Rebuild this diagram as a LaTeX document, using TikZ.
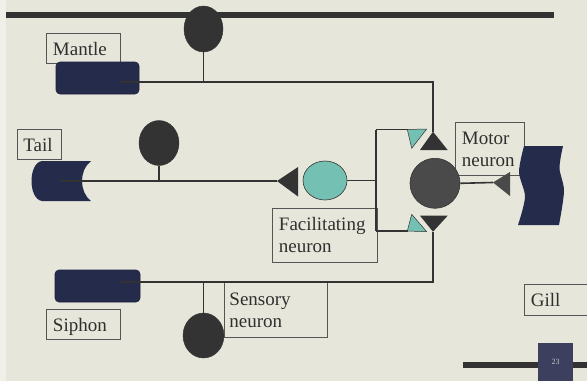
\documentclass[tikz,border=0pt]{standalone}
\usepackage{fontspec}
\setmainfont{Liberation Serif}
\usetikzlibrary{shapes.geometric}
\definecolor{bg}{HTML}{E7E6DA}
\definecolor{strip}{HTML}{F0F0E8}
\definecolor{navy}{HTML}{252B4B}
\definecolor{dark}{HTML}{333333}
\definecolor{motorc}{HTML}{4A4A4A}
\definecolor{tealc}{HTML}{74C0B2}
\definecolor{boxc}{HTML}{555555}
\definecolor{txt}{HTML}{2F2F2F}
\definecolor{pagec}{HTML}{3C3F5E}
\definecolor{pagetxt}{HTML}{C8C8C8}
\begin{document}
\begin{tikzpicture}[x=1pt,y=-1pt,
  lbl/.style={draw=boxc,line width=0.9pt,rectangle,inner xsep=6.5pt,inner ysep=0pt,
    align=left,font=\fontsize{19}{22}\selectfont,text=txt,anchor=north west},
  one/.style={text depth=0pt},
  wire/.style={draw=dark,line width=1.6pt},
  soma/.style={ellipse,fill=dark,draw=dark,inner sep=0pt},
  navybox/.style={rectangle,rounded corners=4pt,fill=navy,draw=navy!80!black,line width=0.6pt,inner sep=0pt},
  tri/.style={fill=dark},
  tealtri/.style={fill=tealc,draw=dark,line width=0.5pt,line join=round}
]
\useasboundingbox (0,0) rectangle (587,381);
\fill[bg] (0,0) rectangle (587,381);
\fill[strip] (0,0) rectangle (5.5,381);

% bars
\fill[dark] (6,12) rectangle (554,18);
\fill[dark] (463,362) rectangle (587,368);
\node[fill=pagec,minimum width=35pt,minimum height=38pt,inner sep=0pt,text=pagetxt,
  font=\fontsize{8}{9}\selectfont] (pg) at (555.5,362) {23};

% label boxes
\node[lbl,one,text width=61pt,minimum height=30pt] (mantleL) at (46,33) {Mantle};
\node[lbl,one,inner xsep=6pt,text width=32pt,minimum height=30pt] (tailL) at (17,129) {Tail};
\node[lbl,text width=56pt,minimum height=53pt] (motorL) at (455,122) {Motor\\neuron};
\node[lbl,text width=92pt,minimum height=54pt] (facL) at (272,208) {Facilitating\\neuron};
\node[lbl,one,text width=61pt,minimum height=30pt] (siphonL) at (46,309) {Siphon};
\node[lbl,inner xsep=5pt,text width=93pt,minimum height=55pt] (sensL) at (224,282) {Sensory\\neuron};
\node[lbl,one,text width=53pt,minimum height=31pt] (gillL) at (524,284) {Gill};

% body parts
\node[navybox,minimum width=83pt,minimum height=32pt] (mantle) at (97.5,78) {};
\node[navybox,minimum width=85pt,minimum height=32pt] (siphon) at (97.5,286) {};
\fill[navy] (42,161) -- (91,161) .. controls (79,170) and (79,192) .. (91,201)
  -- (42,201) .. controls (28,199) and (28,163) .. (42,161) -- cycle;
\fill[navy] plot[smooth] coordinates {(524,146) (563,146)}
  -- plot[smooth] coordinates {(563,146) (559.5,168) (564,191) (559,225)}
  -- plot[smooth] coordinates {(559,225) (518,225)}
  -- plot[smooth] coordinates {(518,225) (525,197) (519,172) (524,146)} -- cycle;

% neurons
\node[soma,minimum width=39pt,minimum height=46pt] (mN) at (203.5,29) {};
\node[soma,minimum width=40pt,minimum height=45pt] (tN) at (159,143) {};
\node[soma,minimum width=41pt,minimum height=45pt] (sN) at (203.5,335.5) {};
\node[ellipse,fill=tealc,draw=dark,line width=0.6pt,minimum width=44pt,minimum height=39pt,inner sep=0pt] (fN) at (325,180.5) {};
\node[circle,fill=motorc,draw=dark,line width=0.6pt,minimum size=50pt,inner sep=0pt] (mot) at (435,183.3) {};

% coordinates
\coordinate (mS) at (120,82);
\coordinate (mTip) at (433,131.7);
\coordinate (tS) at (61,181);
\coordinate (fTip) at (277,181);
\coordinate (jT) at (376,129.5);
\coordinate (jB) at (376,231);
\coordinate (tU) at (408,129.5);
\coordinate (tL) at (408,231);
\coordinate (gTip) at (493,182.5);
\coordinate (sS) at (121,282);
\coordinate (sTip) at (433,231.7);

% wires
\draw[wire] (mS) -| (mTip);
\draw[wire] (mN.south) -- (mN.south |- mS);
\draw[wire] (tS) -- (fTip);
\draw[wire] (tN.south) -- (tN.south |- tS);
\draw[wire] (fN.east) -- (fN.east -| jT);
\draw[wire] (jT) -- (jB);
\draw[wire] (jT) -- (tU);
\draw[wire] (jB) -- (tL);
\draw[wire] (mot.east) -- (gTip);
\draw[wire] (sS) -| (sTip);
\draw[wire] (sN.north) -- (sN.north |- sS);

% triangles
\fill[tri] (mTip) -- (420,150) -- (447.7,150) -- cycle;
\fill[tri] (sTip) -- (420,215.7) -- (447.7,215.7) -- cycle;
\fill[tri] (fTip) -- (298,167) -- (298,196.5) -- cycle;
\fill[motorc] (gTip) -- (510,172) -- (510,196) -- cycle;
\filldraw[tealtri] (407.3,129.5) -- (426.7,129) -- (411.7,148.3) -- cycle;
\filldraw[tealtri] (411.7,214.3) -- (407.3,231) -- (426.7,231.7) -- cycle;
\end{tikzpicture}
\end{document}
